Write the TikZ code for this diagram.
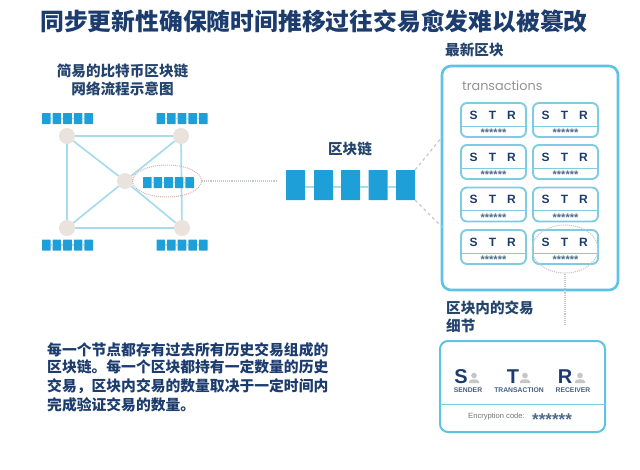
\documentclass[tikz,border=0pt]{standalone}
\usepackage{fontspec}
\setmainfont{Liberation Sans}
\newfontfamily\cjk{Noto Sans CJK SC}
\newfontfamily\thinlatin{Poppins}
\usetikzlibrary{shapes.geometric,calc}
\definecolor{navy}{HTML}{1C3C6E}
\definecolor{inktext}{HTML}{24446E}
\definecolor{blockblue}{HTML}{1F9FD8}
\definecolor{linkblue}{HTML}{A6DCEB}
\definecolor{frameblue}{HTML}{5CC4E2}
\definecolor{cardblue}{HTML}{7FCBE0}
\definecolor{netnode}{HTML}{EAE2DC}
\definecolor{dashgray}{HTML}{C4C8CC}
\definecolor{dotpink}{HTML}{D9B0AA}
\tikzset{
  cn/.style={font=\cjk\bfseries\fontsize{14.6}{16}\selectfont,text=inktext,inner sep=0pt},
  para/.style={cn,anchor=west,font=\cjk\bfseries\fontsize{14.8}{16}\selectfont,text=navy},
  peer/.style={circle,fill=netnode,minimum size=16pt,inner sep=0pt},
  netline/.style={draw=linkblue,line width=1.7pt},
  miniblock/.style={fill=blockblue,minimum width=8.6pt,minimum height=11pt,inner sep=0pt,rounded corners=0.5pt},
  bigblock/.style={fill=blockblue,minimum width=19pt,minimum height=30pt,inner sep=0pt,rounded corners=0.5pt},
  chainlink/.style={draw=linkblue,line width=1.2pt},
  frame/.style={draw=frameblue,line width=2.6pt,rounded corners=9pt,fill=white,inner sep=0pt},
  cardbox/.style={draw=cardblue,line width=1.9pt,rounded corners=6pt,fill=white,minimum width=65pt,minimum height=34pt,inner sep=0pt},
  cardrule/.style={draw=cardblue,line width=0.9pt},
  strtext/.style={font=\bfseries\fontsize{12}{13}\selectfont,text=navy,inner sep=0pt},
  startext/.style={font=\bfseries\fontsize{11}{12}\selectfont,text=inktext!80,inner sep=0pt},
  graydash/.style={draw=dashgray,line width=1.2pt,dashed},
  pinkdots/.style={draw=dotpink,line width=1pt,densely dotted},
  graydots/.style={draw=dashgray,line width=1.1pt,densely dotted},
  biglabel/.style={font=\bfseries\fontsize{20}{21}\selectfont,text=navy,inner sep=0pt},
  smalllabel/.style={font=\bfseries\fontsize{6.8}{8}\selectfont,text=inktext!85,inner sep=0pt},
  iconink/.style={fill=gray!45}
}
\newcommand{\minichain}[3]{%
  \foreach \k in {1,...,5} {
    \node[miniblock] (#1\k) at ({#2+4.3+(\k-1)*10.6},#3) {};
  }
  \foreach \k/\m in {1/2,2/3,3/4,4/5} { \draw[chainlink] (#1\k) -- (#1\m); }
}
\newcommand{\txcard}[3]{%
  \node[cardbox] (#1) at (#2,#3) {};
  \coordinate (#1l) at ($(#1.west)+(0,6)$);
  \coordinate (#1r) at ($(#1.east)+(0,6)$);
  \draw[cardrule] (#1l) -- (#1r);
  \node[strtext] (#1s) at (#2-20,#3-5) {S};
  \node[strtext] (#1t) at (#2-1,#3-5) {T};
  \node[strtext] (#1x) at (#2+18,#3-5) {R};
  \node[startext] (#1c) at (#2,#3+13) {******};
}
\newcommand{\personicon}[2]{%
  \fill[iconink] (#1,#2-2.5) circle (2.8pt);
  \fill[iconink] (#1-5,#2+5) -- (#1-5,#2+3.5) .. controls (#1-5,#2+0.5) and (#1+5,#2+0.5) .. (#1+5,#2+3.5) -- (#1+5,#2+5) -- cycle;
}
\begin{document}
\begin{tikzpicture}[x=1pt,y=-1pt]
\useasboundingbox (0,0) rectangle (640,469);
\fill[white] (0,0) rectangle (640,469);

\node[inner sep=0pt,font=\cjk\bfseries\fontsize{23.8}{26}\selectfont,text=navy] (title) at (314,21) {同步更新性确保随时间推移过往交易愈发难以被篡改};

\node[cn] (sub1) at (122.5,71) {简易的比特币区块链};
\node[cn] (sub2) at (122.5,89) {网络流程示意图};

% network
\node[peer] (tl) at (67,136) {};
\node[peer] (tr) at (181,136) {};
\node[peer] (ct) at (125,181) {};
\node[peer] (bl) at (67,228) {};
\node[peer] (br) at (182,228) {};
\draw[netline] (tl) -- (tr);
\draw[netline] (tl) -- (bl);
\draw[netline] (bl) -- (br);
\draw[netline] (tr) -- (br);
\draw[netline] (tl) -- (ct);
\draw[netline] (tr) -- (ct);
\draw[netline] (bl) -- (ct);
\draw[netline] (br) -- (ct);
\minichain{a}{42}{118.5}
\minichain{b}{156.5}{118.5}
\minichain{c}{143}{182.5}
\minichain{d}{42}{245}
\minichain{e}{156.5}{245}

\node[ellipse,pinkdots,minimum width=69pt,minimum height=32pt,inner sep=0pt] (focus) at (167,181) {};
\coordinate (dotend) at (277,181);
\draw[graydots] (focus.east) -- (dotend);

% main chain
\node[cn] (chainlabel) at (350,149) {区块链};
\node[bigblock] (m1) at (295.5,185) {};
\node[bigblock] (m2) at (323.5,185) {};
\node[bigblock] (m3) at (350.5,185) {};
\node[bigblock] (m4) at (378,185) {};
\node[bigblock] (m5) at (405.5,185) {};
\draw[chainlink] ($(m1.east)+(0,2)$) -- ($(m2.west)+(0,2)$);
\draw[chainlink] ($(m2.east)+(0,2)$) -- ($(m3.west)+(0,2)$);
\draw[chainlink] ($(m3.east)+(0,2)$) -- ($(m4.west)+(0,2)$);
\draw[chainlink] ($(m4.east)+(0,2)$) -- ($(m5.west)+(0,2)$);

% latest block
\node[cn,anchor=west] (latest) at (445,50) {最新区块};
\node[frame,minimum width=176pt,minimum height=224pt] (big) at (530,178) {};
\coordinate (bigup) at (442,137);
\coordinate (bigdown) at (442,227);
\draw[graydash] (m5.north east) -- (bigup);
\draw[graydash] (m5.south east) -- (bigdown);
\node[inner sep=0pt,anchor=west,font=\thinlatin\fontsize{12.8}{14}\selectfont,text=gray!85] (tx) at (462,86) {transactions};

\txcard{p1}{493.5}{120}
\txcard{q1}{565.5}{120}
\txcard{p2}{493.5}{162}
\txcard{q2}{565.5}{162}
\txcard{p3}{493.5}{204.5}
\txcard{q3}{565.5}{204.5}
\txcard{p4}{493.5}{247}
\txcard{q4}{565.5}{247}

\node[ellipse,graydots,minimum width=66pt,minimum height=48pt,inner sep=0pt] (pick) at (565,249) {};
\coordinate (pickend) at (565,326);
\draw[graydots] (pick.south) -- (pickend);

% detail
\node[cn,anchor=west] (det1) at (446,308) {区块内的交易};
\node[cn,anchor=west] (det2) at (446,326) {细节};
\node[frame,line width=2pt,rounded corners=8pt,minimum width=165pt,minimum height=91pt] (detail) at (522.5,386.5) {};
\coordinate (dl) at (detail.west |- 0,404);
\coordinate (dr) at (detail.east |- 0,404);
\draw[draw=cardblue,line width=1pt] (dl) -- (dr);
\node[biglabel] (ds) at (461,377) {S};
\node[biglabel] (dt) at (513,377) {T};
\node[biglabel] (dr2) at (565,377) {R};
\personicon{474}{378}
\personicon{525}{378}
\personicon{580}{378}
\node[smalllabel] (l1) at (468,390.5) {SENDER};
\node[smalllabel] (l2) at (519,390.5) {TRANSACTION};
\node[smalllabel] (l3) at (573,390.5) {RECEIVER};
\node[inner sep=0pt,anchor=west,font=\fontsize{7.6}{9}\selectfont,text=gray!90!black] (enc) at (468,417) {Encryption code:};
\node[inner sep=0pt,anchor=west,font=\bfseries\fontsize{17}{18}\selectfont,text=inktext!80] (encs) at (532,420) {******};

% paragraph
\node[para] (t1) at (47,350) {每一个节点都存有过去所有历史交易组成的};
\node[para] (t2) at (47,367) {区块链。每一个区块都持有一定数量的历史};
\node[para] (t3) at (47,386) {交易，区块内交易的数量取决于一定时间内};
\node[para] (t4) at (47,405) {完成验证交易的数量。};
\end{tikzpicture}
\end{document}
